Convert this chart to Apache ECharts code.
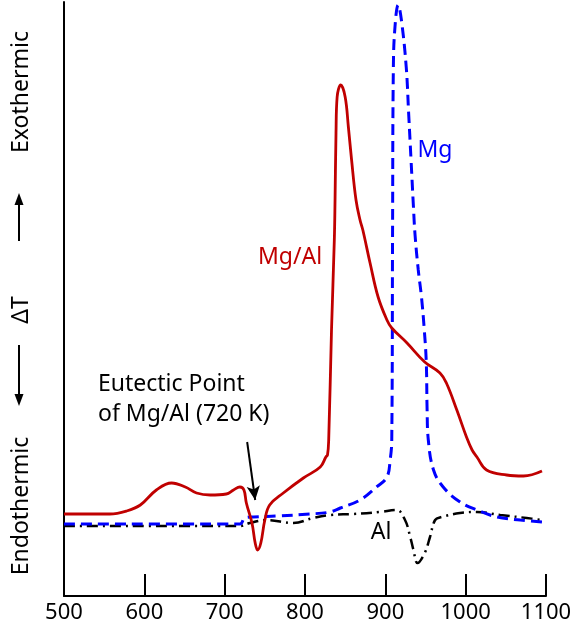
<!DOCTYPE html>
<html>
<head>
<meta charset="utf-8">
<script src="https://cdn.jsdelivr.net/npm/echarts@6/dist/echarts.min.js"></script>
<style>
html,body{margin:0;padding:0;background:#fff;}
#chart{width:572px;height:632px;}
</style>
</head>
<body>
<div id="chart"></div>
<script>
// ---- data (temperature in K, signal ΔT in arbitrary units) ----
const tempTicks = [500, 600, 700, 800, 900, 1000, 1100];

const mgAlTemp = [500,557,578,595,615,634,651,665,682,702,711,719,724,727,734,738,741,745,750,756,773,798,819,826,828,829.5,833,836.5,837.4,838.6,840,844.5,850,854,858,863.5,868.5,872,881,891,902,908,927,949,968,976,989,1001,1008,1014,1026,1051,1072,1095];
const mgAlSignal = [82,82,85,91,106,113,109,103,101,102,106,109,106,93,73,53,46,53,76,91,103,118,129,139,141,156,266,356,396,463,499,511,499,469,436,396,376,366,333,299,276,268,253,234,223,213,186,159,146,139,126,121,120,125];

const mgTemp = [500,719,725,736,765,806,831,844,868.5,889,902,906,908,909,910,912,916,920,926,929,932,935,937,941,945,948.5,951,952,953.5,960,972,993,1014,1039,1068,1095];
const mgSignal = [72,72,78,79,80,82,84,88,96,109,119,136,156,363,529,569,591,576,529,483,436,389,361,326,299,266,233,186,156,126,109,94,86,79,76,74];

const alTemp = [500,719,731.5,752,785.5,810,831,860,893,914,924.5,931,935,940,949,955.6,962,970,993,1014,1043,1076,1095];
const alSignal = [70,70,73,76,73,78,81,82,84,86,76,59,46,33,43,59,76,79,83,84,81,78,76];

const eutecticArrow = [[728, 154], [738, 96]];

const seriesNames = ['Al', 'Mg', 'Mg/Al'];
const axisText = ['Exothermic', 'ΔT', 'Endothermic'];
const noteLines = ['Eutectic Point', 'of Mg/Al (720 K)'];

// ---- build ----
const zip = (xs, ys) => xs.map((x, i) => [x, ys[i]]);
const FONT = '"Noto Sans", "Open Sans", sans-serif';

const chart = echarts.init(document.getElementById('chart'), null, {renderer: 'canvas'});

function txt(text, x, y, size, color, align, rot) {
  return {
    type: 'text', x: x, y: y, rotation: rot || 0, silent: true,
    style: {
      text: text, fill: color, font: size + 'px ' + FONT,
      align: align, verticalAlign: 'middle',
      textAlign: align, textVerticalAlign: 'middle'
    }
  };
}

const option = {
  backgroundColor: '#fff',
  animation: false,
  grid: {left: 64, right: 26, top: 2, bottom: 36, containLabel: false, outerBoundsMode: 'none'},
  xAxis: {
    type: 'value', min: tempTicks[0], max: tempTicks[tempTicks.length - 1], interval: 100,
    axisLine: {show: true, lineStyle: {color: '#000', width: 2}},
    axisTick: {show: true, inside: true, length: 22, lineStyle: {color: '#000', width: 2}},
    axisLabel: {show: true, color: '#000', fontSize: 22, fontFamily: FONT, margin: 6,
      formatter: function (v) { return String(v); }},
    splitLine: {show: false}
  },
  yAxis: {
    type: 'value', min: 0, max: 594,
    axisLine: {show: true, lineStyle: {color: '#000', width: 2}},
    axisTick: {show: false}, axisLabel: {show: false}, splitLine: {show: false}
  },
  series: [
    {
      name: seriesNames[0], type: 'line', data: zip(alTemp, alSignal),
      showSymbol: false, smooth: 0.4, z: 2,
      lineStyle: {color: '#000', width: 2.5, type: [11, 5, 2, 5]},
      markLine: {
        silent: true, symbol: ['none', 'arrow'], symbolSize: [10, 14],
        label: {show: false},
        lineStyle: {color: '#000', width: 2, type: 'solid'},
        data: [[{coord: eutecticArrow[0]}, {coord: eutecticArrow[1]}]]
      }
    },
    {
      name: seriesNames[1], type: 'line', data: zip(mgTemp, mgSignal),
      showSymbol: false, smooth: 0.4, z: 3,
      lineStyle: {color: '#0000ff', width: 3, type: [11, 6]}
    },
    {
      name: seriesNames[2], type: 'line', data: zip(mgAlTemp, mgAlSignal),
      showSymbol: false, smooth: 0.4, z: 4,
      lineStyle: {color: '#c00000', width: 2.8, type: 'solid'}
    }
  ],
  graphic: [
    txt(axisText[0], 21, 92, 23, '#000', 'center', Math.PI / 2),
    txt(axisText[1], 21, 310, 23, '#000', 'center', Math.PI / 2),
    txt(axisText[2], 21, 506, 23, '#000', 'center', Math.PI / 2),
    {type: 'line', silent: true, shape: {x1: 19, y1: 241, x2: 19, y2: 202}, style: {stroke: '#000', lineWidth: 2}},
    {type: 'polygon', silent: true, shape: {points: [[19, 193], [14.5, 205], [23.5, 205]]}, style: {fill: '#000'}},
    {type: 'line', silent: true, shape: {x1: 19, y1: 345, x2: 19, y2: 396}, style: {stroke: '#000', lineWidth: 2}},
    {type: 'polygon', silent: true, shape: {points: [[19, 406], [14.5, 394], [23.5, 394]]}, style: {fill: '#000'}},
    txt(noteLines[0], 98, 384, 23, '#000', 'left'),
    txt(noteLines[1], 98, 414, 23, '#000', 'left'),
    txt(seriesNames[2], 290, 257, 23, '#c00000', 'center'),
    txt(seriesNames[1], 435, 150, 23, '#0000ff', 'center'),
    txt(seriesNames[0], 381, 532, 23, '#000', 'center')
  ]
};
chart.setOption(option);
</script>
</body>
</html>
